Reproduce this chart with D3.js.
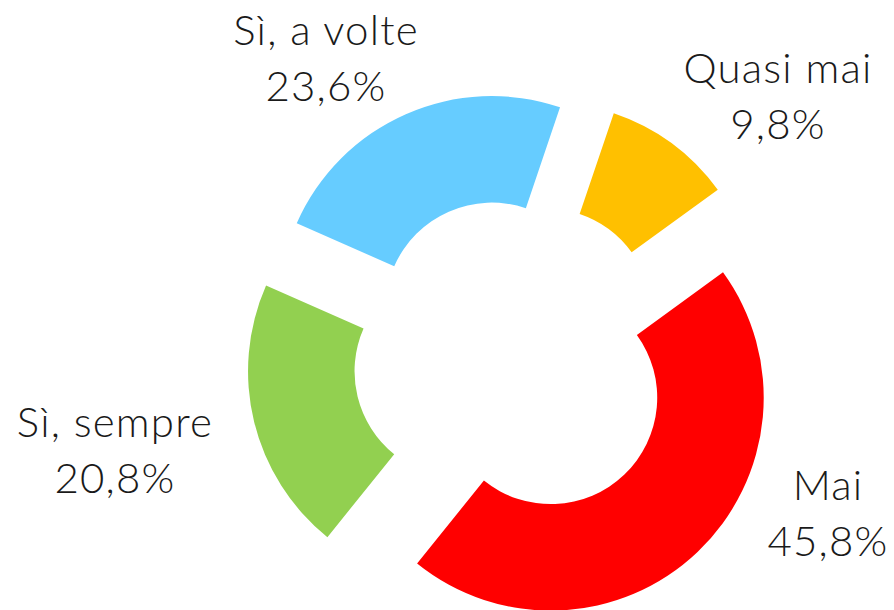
<!DOCTYPE html>
<html>
<head>
<meta charset="utf-8">
<script src="https://cdn.jsdelivr.net/npm/d3@7"></script>
<style>
  body { margin: 0; background: #fff; }
  svg { display: block; }
</style>
</head>
<body>
<script>
// Chart size
const width = 894;
const height = 610;

// Data
const categories = ["Quasi mai", "Mai", "Sì, sempre", "Sì, a volte"];
const shares = [9.8, 45.8, 20.8, 23.6];
const valueLabels = ["9,8%", "45,8%", "20,8%", "23,6%"];
const colors = ["#FFC000", "#FF0000", "#92D050", "#66CCFF"];

// Layout of the doughnut
const cx = 513.5, cy = 358.5;
const outerR = 213;
const innerR = 106.5;
const explode = 54;
const firstAngle = 18.7; // degrees

// Label anchors (centre of the two-line label, by slice)
const labelSpots = [[778, 83], [828, 500], [115, 437], [326, 45]];
const lineGap = 56;

const svg = d3.select("body").append("svg")
  .attr("width", width)
  .attr("height", height);

svg.append("rect")
  .attr("width", width)
  .attr("height", height)
  .attr("fill", "#fff");

const rows = categories.map((c, i) => ({ name: c, value: shares[i], label: valueLabels[i], color: colors[i] }));

const pie = d3.pie()
  .sort(null)
  .value(d => d.value)
  .startAngle(firstAngle * Math.PI / 180)
  .endAngle(firstAngle * Math.PI / 180 + 2 * Math.PI);

const arc = d3.arc()
  .innerRadius(innerR)
  .outerRadius(outerR);

const arcs = pie(rows);

const g = svg.append("g")
  .attr("transform", `translate(${cx},${cy})`);

// Slices, each pushed out along its middle angle
g.selectAll("path.slice")
  .data(arcs)
  .enter()
  .append("path")
  .attr("class", "slice")
  .attr("d", arc)
  .attr("fill", d => d.data.color)
  .attr("transform", d => {
    const mid = (d.startAngle + d.endAngle) / 2;
    return `translate(${explode * Math.sin(mid)},${-explode * Math.cos(mid)})`;
  });

// Labels
const labels = svg.selectAll("text.lbl")
  .data(arcs)
  .enter()
  .append("text")
  .attr("class", "lbl")
  .attr("text-anchor", "middle")
  .style("font-family", "Lato, 'Open Sans', sans-serif")
  .style("font-weight", 300)
  .style("font-size", "42px")
  .style("letter-spacing", "1.2px")
  .style("fill", "#1a1a1a");

labels.append("tspan")
  .attr("x", (d, i) => labelSpots[i][0])
  .attr("y", (d, i) => labelSpots[i][1])
  .text(d => d.data.name);

labels.append("tspan")
  .attr("x", (d, i) => labelSpots[i][0])
  .attr("y", (d, i) => labelSpots[i][1] + lineGap)
  .text(d => d.data.label);
</script>
</body>
</html>
